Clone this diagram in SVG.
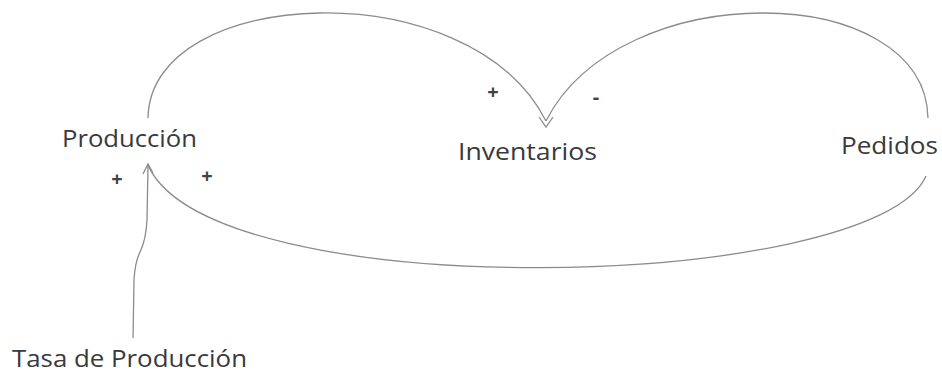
<svg xmlns="http://www.w3.org/2000/svg" width="942" height="375" viewBox="0 0 942 375">
<style>
.lbl{font-family:"Open Sans","Noto Sans","Liberation Sans",sans-serif;font-size:24.5px;fill:#3a3a3a}
.sign{font-family:"Open Sans","Noto Sans","Liberation Sans",sans-serif;font-size:20px;font-weight:bold;fill:#444}
.conn{fill:none;stroke:#8c8c8c;stroke-width:1.3}
</style>
<rect width="942" height="375" fill="#ffffff"/>
<g id="connectors">
<path class="conn" d="M148,118 C150,-15 470,-30 546,121"/>
<path class="conn" d="M928,118 C925,-20 620,-25 546,121"/>
<path class="conn" d="M539,117 L546,127 L553,117"/>
<path class="conn" d="M926,176 C875,292 210,308 148,165"/>
<path class="conn" d="M133,338 L134,280 Q135,262 140,252 Q146,240 147,220 L148,165"/>
<path class="conn" d="M143,174 L148,164 L153,173"/>
</g>
<g id="produccion"><text class="lbl" x="62" y="147" textLength="135" lengthAdjust="spacingAndGlyphs">Producción</text></g>
<g id="inventarios"><text class="lbl" x="458" y="160" textLength="139" lengthAdjust="spacingAndGlyphs">Inventarios</text></g>
<g id="pedidos"><text class="lbl" x="841" y="154" textLength="97" lengthAdjust="spacingAndGlyphs">Pedidos</text></g>
<g id="tasa"><text class="lbl" x="12" y="367" textLength="235" lengthAdjust="spacingAndGlyphs">Tasa de Producción</text></g>
<g id="signs">
<text class="sign" x="117" y="186" text-anchor="middle">+</text>
<text class="sign" x="207" y="183" text-anchor="middle">+</text>
<text class="sign" x="493" y="99" text-anchor="middle">+</text>
<text class="sign" x="596" y="104" text-anchor="middle">-</text>
</g>
</svg>
